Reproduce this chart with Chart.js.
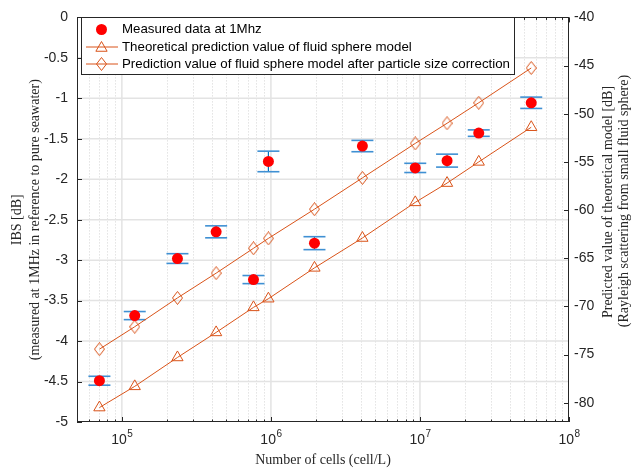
<!DOCTYPE html>
<html>
<head>
<meta charset="utf-8">
<script src="https://cdn.jsdelivr.net/npm/chart.js@4/dist/chart.umd.min.js"></script>
<style>html,body{margin:0;padding:0;background:#fff}</style>
</head>
<body>
<canvas id="chart" width="635" height="475"></canvas>
<script>
// number of cells (cell/L) for every sample
const cells = [7.07e4, 1.22e5, 2.36e5, 4.29e5, 7.64e5, 9.62e5, 1.96e6, 4.11e6, 9.30e6, 1.52e7, 2.48e7, 5.58e7];
// measured IBS at 1 MHz [dB] (left axis) and half height of the error bar
const measuredIBS = [-4.49, -3.685, -2.98, -2.65, -3.24, -1.78, -2.79, -1.59, -1.86, -1.77, -1.43, -1.055];
const measuredErr = [0.055, 0.05, 0.06, 0.074, 0.05, 0.127, 0.08, 0.07, 0.057, 0.08, 0.04, 0.07];
// model predictions [dB] (right axis)
const theoretical = [-80.5, -78.3, -75.3, -72.7, -70.1, -69.2, -66.0, -62.9, -59.2, -57.2, -55.0, -51.4];
const corrected = [-74.44, -72.11, -69.12, -66.55, -63.97, -62.94, -59.91, -56.66, -53.08, -50.99, -48.86, -45.25];

const legendLabels = [
    "Measured data at 1Mhz",
    "Theoretical prediction value of fluid sphere model",
    "Prediction value of fluid sphere model after particle size correction",
];
const xDecades = [1e5, 1e6, 1e7, 1e8];
const leftTicks = [0, -0.5, -1, -1.5, -2, -2.5, -3, -3.5, -4, -4.5, -5];
const rightTicks = [-40, -45, -50, -55, -60, -65, -70, -75, -80];

const SANS = '"Liberation Sans", Arial, sans-serif';
const SERIF = '"Liberation Serif", "Times New Roman", serif';
const ink = "#262626";
const orange = "#D95319";
const blue = "#0072BD";

// MATLAB-like diamond (a bit taller than wide)
function diamond(w, h) {
    const c = document.createElement("canvas");
    c.width = w + 1;
    c.height = h + 1;
    const g = c.getContext("2d");
    g.strokeStyle = orange;
    g.lineWidth = 1;
    g.beginPath();
    g.moveTo(c.width / 2, 0.5);
    g.lineTo(c.width - 0.5, c.height / 2);
    g.lineTo(c.width / 2, c.height - 0.5);
    g.lineTo(0.5, c.height / 2);
    g.closePath();
    g.stroke();
    return c;
}
const diamondMark = diamond(10, 13);

function seg(ctx, x1, y1, x2, y2) {
    ctx.beginPath();
    ctx.moveTo(x1, y1);
    ctx.lineTo(x2, y2);
    ctx.stroke();
}

function triangle(ctx, x, y, r) {
    ctx.beginPath();
    ctx.moveTo(x, y - r);
    ctx.lineTo(x + r * Math.sin(2 * Math.PI / 3), y - r * Math.cos(2 * Math.PI / 3));
    ctx.lineTo(x - r * Math.sin(2 * Math.PI / 3), y - r * Math.cos(2 * Math.PI / 3));
    ctx.closePath();
    ctx.stroke();
}

function minorValues(scale) {
    const out = [];
    for (let e = Math.floor(Math.log10(scale.min)); e < Math.log10(scale.max); e++) {
        for (let k = 2; k <= 9; k++) {
            const v = k * Math.pow(10, e);
            if (v > scale.min && v < scale.max) out.push(v);
        }
    }
    return out;
}

const frame = {
    id: "frame",
    beforeDatasetsDraw(chart) {
        const { ctx, chartArea: a, scales: { x, y } } = chart;
        ctx.save();
        // minor dotted grid
        ctx.strokeStyle = "#d4d4d4";
        ctx.lineWidth = 1;
        ctx.setLineDash([1, 2]);
        minorValues(x).forEach(v => {
            const px = Math.round(x.getPixelForValue(v)) + 0.5;
            seg(ctx, px, a.top, px, a.bottom);
        });
        ctx.setLineDash([]);
        // major grid
        ctx.strokeStyle = "#e3e3e3";
        ctx.lineWidth = 1.5;
        xDecades.forEach(v => {
            const px = x.getPixelForValue(v);
            if (px > a.left + 1 && px < a.right - 1) seg(ctx, px, a.top, px, a.bottom);
        });
        leftTicks.forEach(v => {
            const py = y.getPixelForValue(v);
            if (py > a.top + 1 && py < a.bottom - 1) seg(ctx, a.left, py, a.right, py);
        });
        // error bars
        cells.forEach((c, i) => {
            const px = x.getPixelForValue(c);
            const hi = y.getPixelForValue(measuredIBS[i] + measuredErr[i]);
            const lo = y.getPixelForValue(measuredIBS[i] - measuredErr[i]);
            ctx.strokeStyle = blue;
            ctx.lineWidth = 1.2;
            seg(ctx, px, hi, px, lo);
            ctx.strokeStyle = "#3f90d3";
            ctx.lineWidth = 1.6;
            seg(ctx, px - 11, hi, px + 11, hi);
            seg(ctx, px - 11, lo, px + 11, lo);
        });
        ctx.restore();
    },
    afterDraw(chart) {
        const { ctx, chartArea: a, scales: { x, y, y2 } } = chart;
        ctx.save();
        // ticks pointing inward
        ctx.strokeStyle = ink;
        ctx.lineWidth = 1;
        xDecades.forEach(v => {
            const px = Math.round(x.getPixelForValue(v)) + 0.5;
            seg(ctx, px, a.bottom, px, a.bottom - 5);
            seg(ctx, px, a.top, px, a.top + 5);
        });
        minorValues(x).forEach(v => {
            const px = Math.round(x.getPixelForValue(v)) + 0.5;
            seg(ctx, px, a.bottom, px, a.bottom - 2.5);
            seg(ctx, px, a.top, px, a.top + 2.5);
        });
        leftTicks.forEach(v => {
            const py = Math.round(y.getPixelForValue(v)) + 0.5;
            seg(ctx, a.left, py, a.left + 5, py);
        });
        rightTicks.forEach(v => {
            const py = Math.round(y2.getPixelForValue(v)) + 0.5;
            seg(ctx, a.right, py, a.right - 5, py);
        });
        // box
        ctx.strokeRect(Math.round(a.left) + 0.5, Math.round(a.top) + 0.5,
            Math.round(a.right - a.left) - 1, Math.round(a.bottom - a.top) - 1);

        // x tick labels 10^n
        ctx.fillStyle = ink;
        ctx.textBaseline = "alphabetic";
        ctx.textAlign = "left";
        xDecades.forEach(v => {
            const px = x.getPixelForValue(v);
            const exp = String(Math.round(Math.log10(v)));
            ctx.font = "14px " + SANS;
            const w1 = ctx.measureText("10").width;
            ctx.font = "10px " + SANS;
            const w2 = ctx.measureText(exp).width;
            const x0 = px - (w1 + w2) / 2;
            ctx.font = "14px " + SANS;
            ctx.fillText("10", x0, a.bottom + 22);
            ctx.font = "10px " + SANS;
            ctx.fillText(exp, x0 + w1 + 0.5, a.bottom + 15);
        });

        // axis titles
        ctx.font = "14px " + SERIF;
        ctx.textAlign = "center";
        ctx.textBaseline = "middle";
        ctx.fillText("Number of cells (cell/L)", (a.left + a.right) / 2, 460);
        const midY = (a.top + a.bottom) / 2;
        [[17, midY, "IBS [dB]"],
         [35, midY, "(measured at 1MHz in reference to pure seawater)"],
         [608, 202, "Predicted value of theoretical model [dB]"],
         [624, 201, "(Rayleigh scattering from small fluid sphere)"]].forEach(([tx, ty, t]) => {
            ctx.save();
            ctx.translate(tx, ty);
            ctx.rotate(-Math.PI / 2);
            ctx.fillText(t, 0, 0);
            ctx.restore();
        });

        // legend box
        ctx.fillStyle = "#fff";
        ctx.fillRect(81.5, 17.5, 433, 57);
        ctx.strokeStyle = ink;
        ctx.strokeRect(81.5, 17.5, 433, 57);
        const rows = [29.5, 47, 64];
        ctx.fillStyle = "#ff0000";
        ctx.beginPath();
        ctx.arc(101.5, rows[0], 5.5, 0, 2 * Math.PI);
        ctx.fill();
        ctx.strokeStyle = orange;
        ctx.lineWidth = 1;
        seg(ctx, 86, rows[1], 118, rows[1]);
        triangle(ctx, 101.5, rows[1] + 1, 6.5);
        seg(ctx, 86, rows[2], 118, rows[2]);
        ctx.drawImage(diamondMark, Math.round(101.5 - diamondMark.width / 2), Math.round(rows[2] - diamondMark.height / 2));
        ctx.fillStyle = "#000";
        ctx.font = "13.3px " + SANS;
        ctx.textAlign = "left";
        legendLabels.forEach((t, i) => ctx.fillText(t, 122, rows[i]));
        ctx.restore();
    },
};

const toPoints = vals => cells.map((c, i) => ({ x: c, y: vals[i] }));

new Chart(document.getElementById("chart"), {
    type: "scatter",
    data: {
        datasets: [
            {
                label: legendLabels[0],
                data: toPoints(measuredIBS),
                yAxisID: "y",
                pointStyle: "circle",
                pointRadius: 5.5,
                backgroundColor: "#ff0000",
                borderColor: "#ff0000",
                borderWidth: 0,
            },
            {
                label: legendLabels[1],
                data: toPoints(theoretical),
                yAxisID: "y2",
                showLine: true,
                borderColor: orange,
                borderWidth: 1,
                pointStyle: "triangle",
                pointRadius: 6.5,
                pointBorderWidth: 1,
                pointBorderColor: orange,
                pointBackgroundColor: "rgba(0,0,0,0)",
            },
            {
                label: legendLabels[2],
                data: toPoints(corrected),
                yAxisID: "y2",
                showLine: true,
                borderColor: orange,
                borderWidth: 1,
                pointStyle: diamondMark,
                pointRadius: 6,
            },
        ],
    },
    options: {
        responsive: false,
        animation: false,
        devicePixelRatio: 1,
        events: [],
        layout: { padding: { top: 14, left: 0, right: 0, bottom: 0 } },
        plugins: { legend: { display: false }, tooltip: { enabled: false } },
        scales: {
            x: {
                type: "logarithmic",
                min: 5e4,
                max: 1e8,
                grid: { display: false, drawTicks: false },
                border: { display: false },
                ticks: { display: false },
                afterFit: s => { s.height = 53; },
            },
            y: {
                type: "linear",
                position: "left",
                min: -5,
                max: 0,
                afterBuildTicks: s => { s.ticks = leftTicks.map(v => ({ value: v })); },
                afterFit: s => { s.width = 77; },
                grid: { display: false, drawTicks: false },
                border: { display: false },
                ticks: { color: ink, padding: 9, font: { family: SANS, size: 14 }, callback: v => String(v) },
            },
            y2: {
                type: "linear",
                position: "right",
                min: -82,
                max: -40,
                afterBuildTicks: s => { s.ticks = rightTicks.map(v => ({ value: v })); },
                afterFit: s => { s.width = 66; },
                grid: { display: false, drawTicks: false },
                border: { display: false },
                ticks: { color: ink, padding: 5, font: { family: SANS, size: 14 }, callback: v => String(v) },
            },
        },
    },
    plugins: [frame],
});
</script>
</body>
</html>
